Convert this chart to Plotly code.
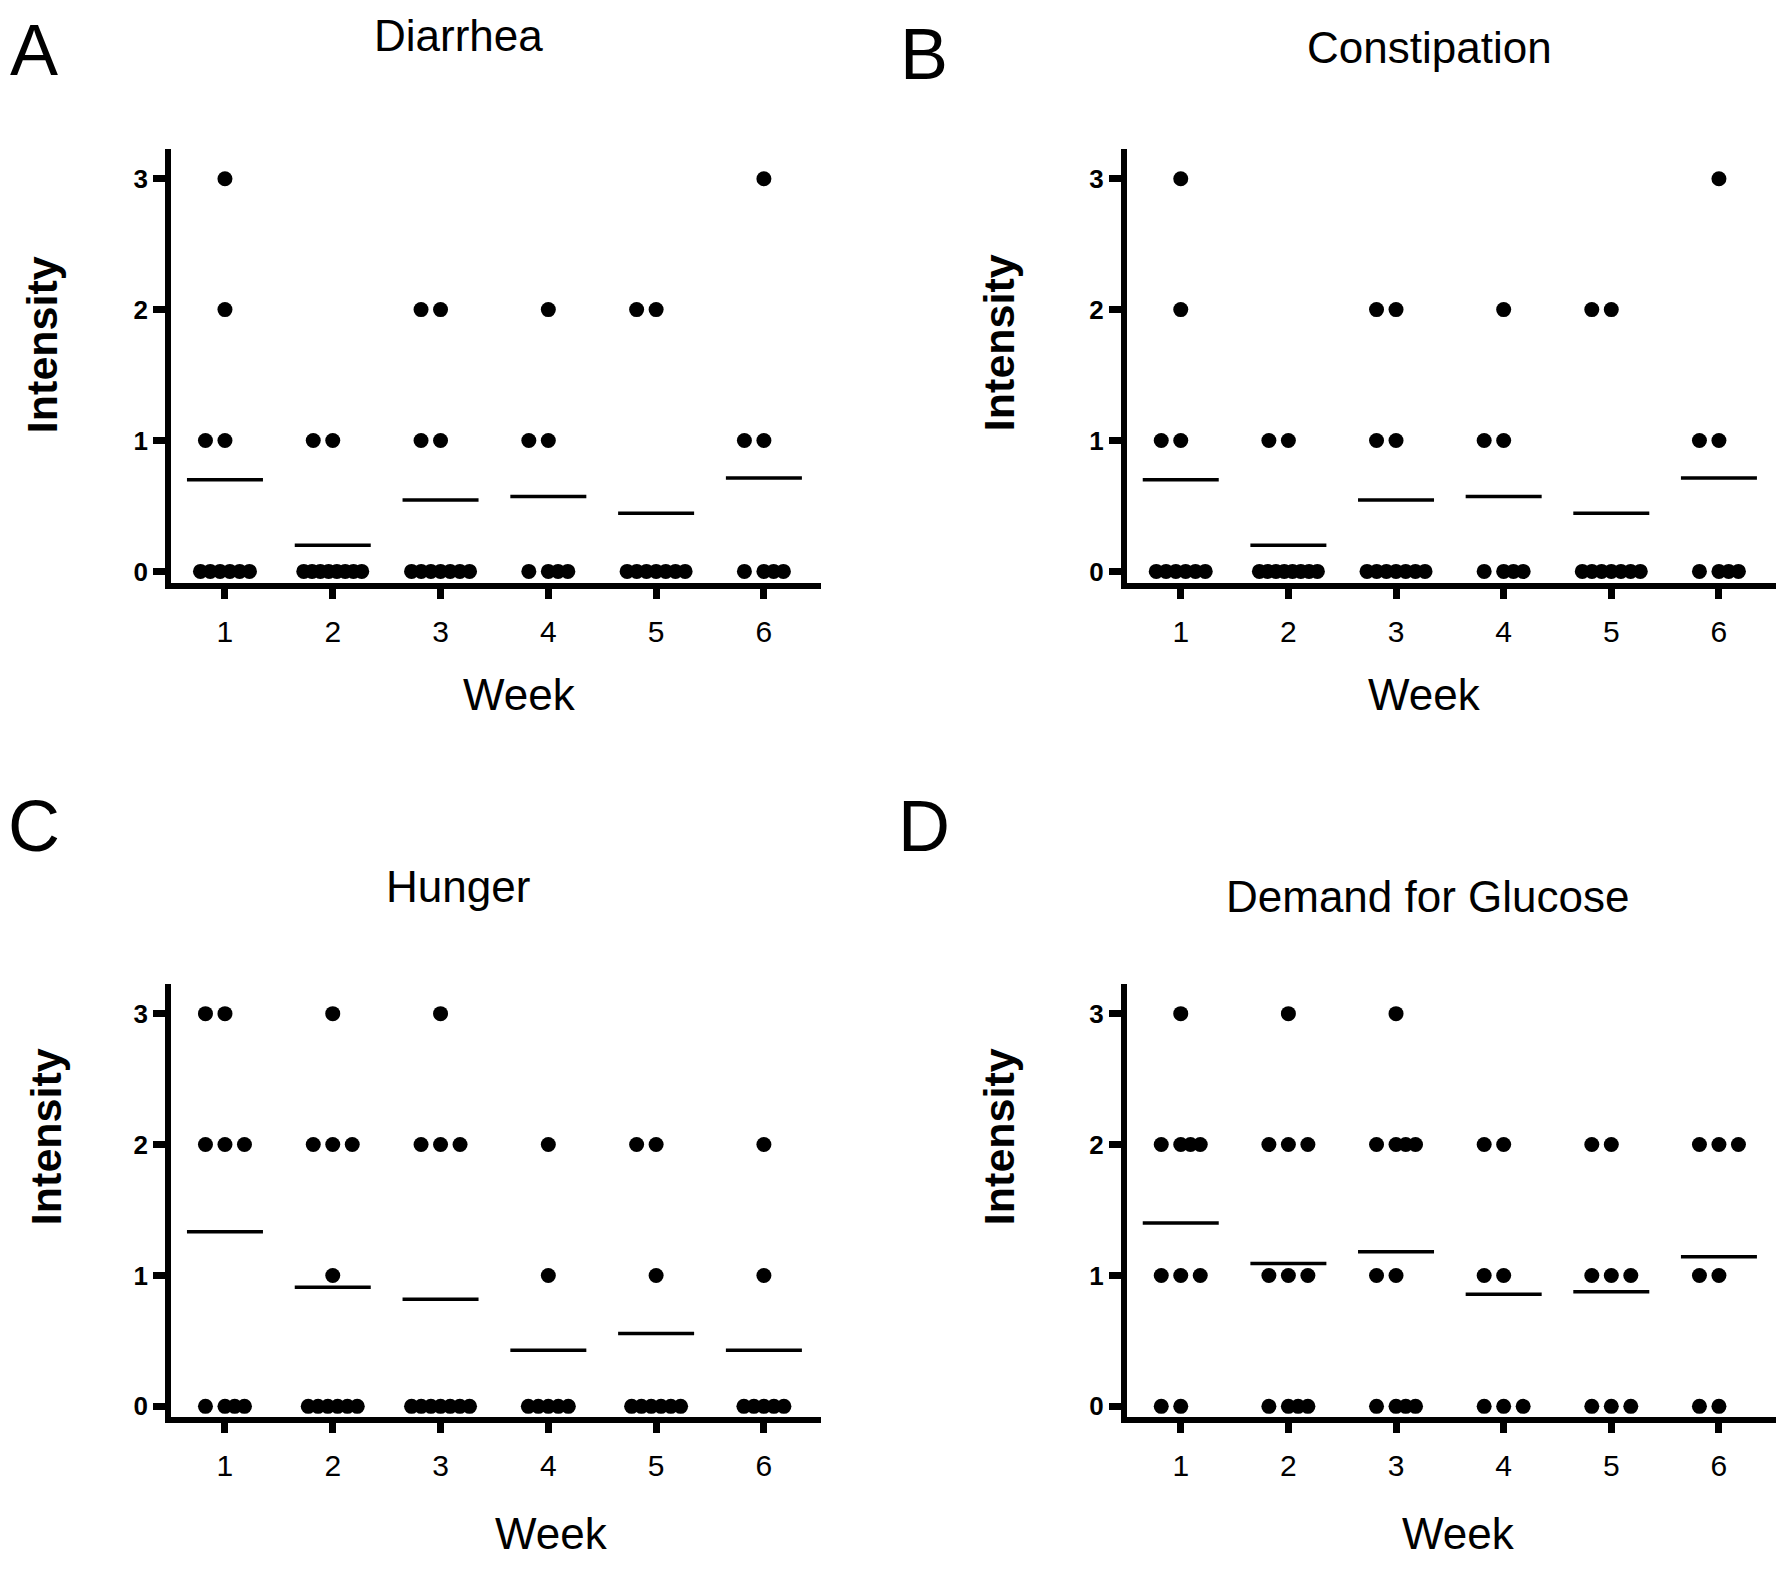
import numpy as np
import plotly.graph_objects as go

# values read per week (week 1..6), one intensity score per subject
weeks = [1, 2, 3, 4, 5, 6]
week_labels = ["1", "2", "3", "4", "5", "6"]
intensity_ticks = [0, 1, 2, 3]

diarrhea = [
    [3, 2, 1, 1, 0, 0, 0, 0, 0, 0],
    [1, 1, 0, 0, 0, 0, 0, 0, 0, 0],
    [2, 2, 1, 1, 0, 0, 0, 0, 0, 0, 0],
    [2, 1, 1, 0, 0, 0, 0],
    [2, 2, 0, 0, 0, 0, 0, 0, 0],
    [3, 1, 1, 0, 0, 0, 0],
]
constipation = [
    [3, 2, 1, 1, 0, 0, 0, 0, 0, 0],
    [1, 1, 0, 0, 0, 0, 0, 0, 0, 0],
    [2, 2, 1, 1, 0, 0, 0, 0, 0, 0, 0],
    [2, 1, 1, 0, 0, 0, 0],
    [2, 2, 0, 0, 0, 0, 0, 0, 0],
    [3, 1, 1, 0, 0, 0, 0],
]
hunger = [
    [3, 3, 2, 2, 2, 0, 0, 0, 0],
    [3, 2, 2, 2, 1, 0, 0, 0, 0, 0, 0],
    [3, 2, 2, 2, 0, 0, 0, 0, 0, 0, 0],
    [2, 1, 0, 0, 0, 0, 0],
    [2, 2, 1, 0, 0, 0, 0, 0, 0],
    [2, 1, 0, 0, 0, 0, 0],
]
glucose = [
    [3, 2, 2, 2, 2, 1, 1, 1, 0, 0],
    [3, 2, 2, 2, 1, 1, 1, 0, 0, 0, 0],
    [3, 2, 2, 2, 2, 1, 1, 0, 0, 0, 0],
    [2, 2, 1, 1, 0, 0, 0],
    [2, 2, 1, 1, 1, 0, 0, 0],
    [2, 2, 2, 1, 1, 0, 0],
]

W, H = 1792, 1582
XRANGE = [0.5, 6.53]
YRANGE = [-0.085, 3.23]
FONT = "Liberation Sans"

# panel: (letter, title, data, x domain, y domain)
panels = [
    ("A", "Diarrhea", diarrhea, [0.0910, 0.4537], [0.6359, 0.9109]),
    ("B", "Constipation", constipation, [0.6244, 0.9866], [0.6359, 0.9109]),
    ("C", "Hunger", hunger, [0.0910, 0.4537], [0.1068, 0.3818]),
    ("D", "Demand for Glucose", glucose, [0.6244, 0.9866], [0.1068, 0.3818]),
]
# text positions in px (letters: top edge, the rest: centre)
letter_pos = [(26, 0), (916, 4), (26, 778), (916, 778)]
title_pos = [(450, 28), (1421, 40), (450, 881), (1420, 891)]
ytitle_pos = [(34, 338), (991, 336), (38, 1132), (991, 1132)]
xtitle_pos = [(511, 688), (1416, 688), (543, 1529), (1450, 1529)]


def dot_offsets(k):
    '''horizontal spread (px) of k equal dots, roughly like Prism does'''
    step = 19.5
    if k == 1:
        return [0.0]
    if k == 2:
        return [-step, 0.0]
    if k == 3:
        return [-step, 0.0, step]
    if k == 4:
        return [-step, 0.0, step / 2, step]
    span = min(58, 40 + 9 * (k - 5))
    return list(np.linspace(-span / 2, span / 2, k))


fig = go.Figure()
annotations = []

for i, (letter, title, data, xd, yd) in enumerate(panels):
    n = "" if i == 0 else str(i + 1)
    xa, ya = "x" + n, "y" + n
    px_per_unit = (xd[1] - xd[0]) * W / (XRANGE[1] - XRANGE[0])

    xs, ys = [], []
    for w, vals in zip(weeks, data):
        for v in sorted(set(vals), reverse=True):
            k = vals.count(v)
            for off in dot_offsets(k):
                xs.append(w + off / px_per_unit)
                ys.append(v)
    fig.add_trace(go.Scatter(
        x=xs, y=ys, mode="markers", xaxis=xa, yaxis=ya,
        marker=dict(size=15, color="black", line=dict(width=0)),
        hoverinfo="skip"))

    # mean bar for each week
    half = 38 / px_per_unit
    for w, vals in zip(weeks, data):
        m = float(np.mean(vals))
        fig.add_trace(go.Scatter(
            x=[w - half, w + half], y=[m, m], mode="lines",
            xaxis=xa, yaxis=ya, line=dict(color="black", width=3.5),
            hoverinfo="skip"))

    axis_common = dict(showline=True, linecolor="black", linewidth=6,
                       ticks="outside", tickcolor="black", tickwidth=7,
                       showgrid=False, zeroline=False, fixedrange=True)
    fig.update_layout(**{
        "xaxis" + n: dict(domain=xd, range=XRANGE, tickvals=weeks,
                          ticktext=week_labels, ticklen=10,
                          tickfont=dict(family=FONT, size=30, color="black"),
                          anchor=ya, ticklabelstandoff=7, **axis_common),
        "yaxis" + n: dict(domain=yd, range=YRANGE, tickvals=intensity_ticks,
                          ticklen=12,
                          tickfont=dict(family=FONT, size=26, color="black",
                                        weight="bold"),
                          anchor=xa, **axis_common),
    })

    def ann(text, pos, size, bold=False, angle=0, yanchor="middle"):
        annotations.append(dict(
            text=text, x=pos[0] / W, y=1 - pos[1] / H, xref="paper",
            yref="paper", xanchor="center", yanchor=yanchor,
            showarrow=False, textangle=angle,
            font=dict(family=FONT, size=size, color="black",
                      weight="bold" if bold else "normal")))

    ann(letter, letter_pos[i], 72, yanchor="top")
    ann(title, title_pos[i], 44)
    ann("Intensity", ytitle_pos[i], 43, bold=True, angle=-90)
    ann("Week", xtitle_pos[i], 44)

fig.update_layout(width=W, height=H, margin=dict(l=0, r=0, t=0, b=0),
                  paper_bgcolor="white", plot_bgcolor="white",
                  showlegend=False, annotations=annotations)

fig.write_html("out.html")
